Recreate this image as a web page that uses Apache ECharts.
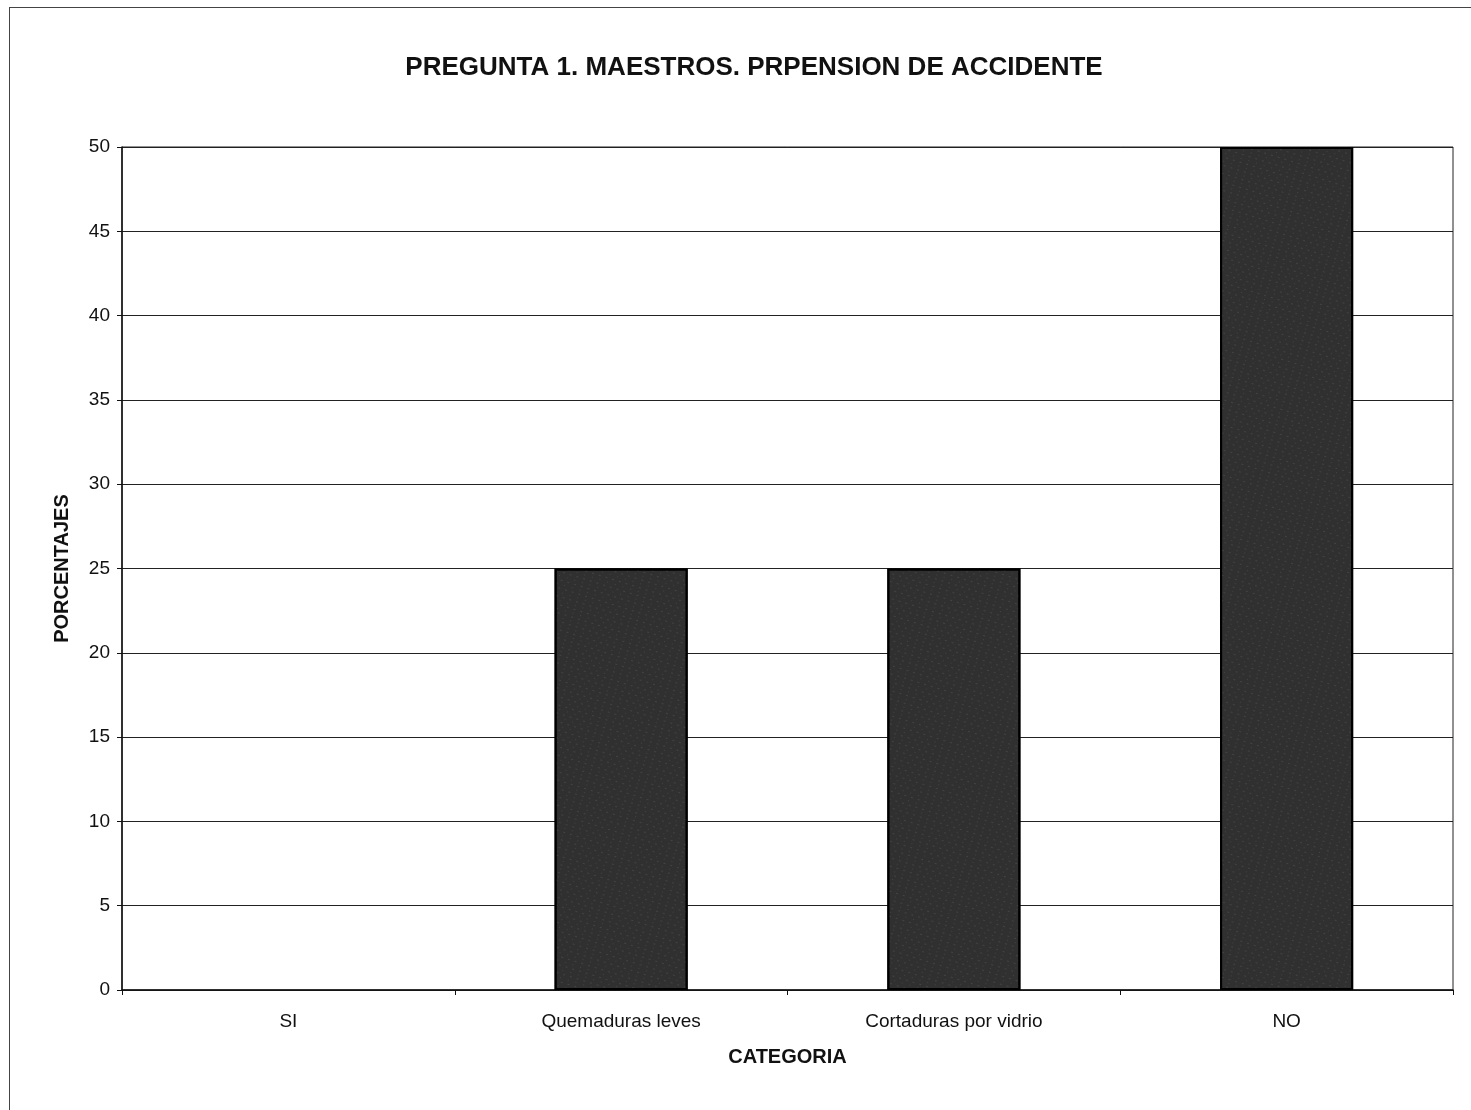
<!DOCTYPE html>
<html>
<head>
<meta charset="utf-8">
<script src="https://cdn.jsdelivr.net/npm/echarts@6/dist/echarts.min.js"></script>
<style>
  html, body { margin: 0; padding: 0; background: #fff; overflow: hidden; }
  #frame { position: absolute; left: 9px; top: 7px; width: 1480px; height: 1120px; border: 1px solid #444; }
  #main { position: absolute; left: 0; top: 0; width: 1471px; height: 1110px; }
</style>
</head>
<body>
<div id="frame"></div>
<div id="main"></div>
<script>
// datos de la grafica
const categorias = ['SI', 'Quemaduras leves', 'Cortaduras por vidrio', 'NO'];
const porcentajes = [0, 25, 25, 50];
const tituloTexto = 'PREGUNTA 1. MAESTROS. PRPENSION DE ACCIDENTE';

let myChart = echarts.init(document.getElementById('main'));

// barras con valor 0 sin borde
const datosBarras = porcentajes.map(v => ({
  value: v,
  itemStyle: v === 0 ? { borderWidth: 0 } : {}
}));

myChart.setOption({
  backgroundColor: 'transparent',
  animation: false,
  title: {
    text: tituloTexto,
    left: 749,
    top: 50,
    textAlign: 'center',
    textStyle: { fontFamily: 'Liberation Sans, Arial', fontSize: 26, fontWeight: 'bold', color: '#111' }
  },
  grid: { left: 122, right: 18, top: 147, bottom: 120, show: true, borderColor: '#222', borderWidth: 1 },
  xAxis: {
    type: 'category',
    data: categorias,
    name: 'CATEGORIA',
    nameLocation: 'middle',
    nameGap: 57,
    nameTextStyle: { fontFamily: 'Liberation Sans, Arial', fontSize: 20, fontWeight: 'bold', color: '#111' },
    axisLine: { lineStyle: { color: '#111', width: 1.5 } },
    axisTick: { show: true, length: 5, lineStyle: { color: '#111' } },
    axisLabel: { fontFamily: 'Liberation Sans, Arial', fontSize: 19, color: '#111', margin: 22 }
  },
  yAxis: {
    type: 'value',
    min: 0,
    max: 50,
    interval: 5,
    name: 'PORCENTAJES',
    nameLocation: 'middle',
    nameGap: 50,
    nameTextStyle: { fontFamily: 'Liberation Sans, Arial', fontSize: 20, fontWeight: 'bold', color: '#111' },
    axisLine: { show: true, lineStyle: { color: '#111', width: 1.5 } },
    axisTick: { show: true, length: 5, lineStyle: { color: '#111' } },
    axisLabel: { fontFamily: 'Liberation Sans, Arial', fontSize: 19, color: '#111', margin: 12 },
    splitLine: { show: true, lineStyle: { color: '#222', width: 1.2 } }
  },
  series: [
    {
      name: 'Porcentaje',
      type: 'bar',
      data: datosBarras,
      barWidth: '40%',
      itemStyle: {
        color: '#303030',
        borderColor: '#000',
        borderWidth: 2,
        decal: {
          symbol: 'rect',
          symbolSize: 0.6,
          color: 'rgba(255,255,255,0.3)',
          dashArrayX: [[2, 5], [1, 7]],
          dashArrayY: [1, 3],
          rotation: 0.3
        }
      }
    }
  ]
});

window.addEventListener('resize', () => {
  myChart.resize();
});
</script>
</body>
</html>
